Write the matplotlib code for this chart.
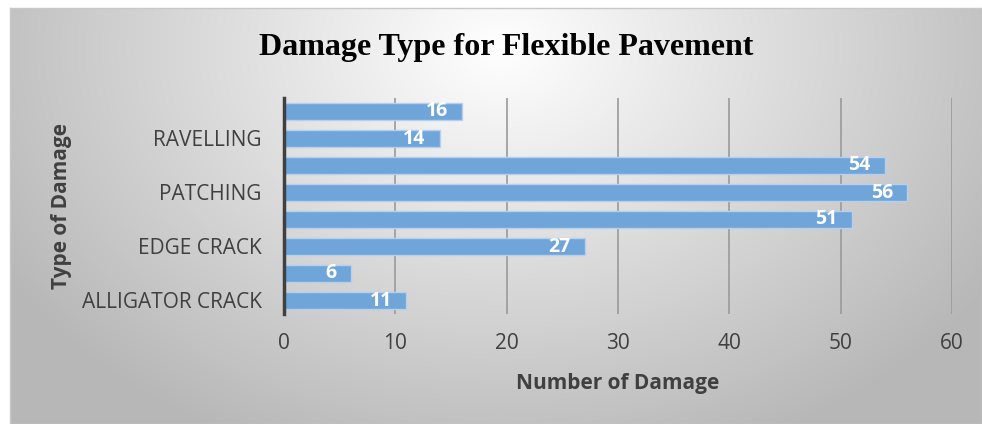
import numpy as np
import matplotlib.pyplot as plt

categories = ['ALLIGATOR CRACK', '', 'EDGE CRACK', '', 'PATCHING', '', 'RAVELLING', '']
values = [11, 6, 27, 51, 56, 54, 14, 16]
xticks = [0, 10, 20, 30, 40, 50, 60]

W, H = 982, 424
fig = plt.figure(figsize=(W / 100, H / 100), dpi=100)

# gradient background panel
bg = fig.add_axes([10 / W, 0, (W - 10) / W, (H - 8) / H], zorder=-1)
yy, xx = np.mgrid[0:416, 0:972]
d = np.sqrt(((xx - 490) / 560.0) ** 2 + ((yy - 40) / 420.0) ** 2)
g = np.clip(1.0 - 0.27 * d, 0.72, 1.0)
bg.imshow(np.dstack([g, g, g]), aspect='auto', extent=[0, 1, 0, 1])
bg.set_xticks([])
bg.set_yticks([])
for s in bg.spines.values():
    s.set_color('#c8c8c8')
    s.set_linewidth(1)

ax = fig.add_axes([284 / W, 1 - 314 / H, 668 / W, 216 / H])
ax.set_facecolor('none')
pos = np.arange(len(values))
bars = ax.barh(pos, values, height=0.6, color='#6fa5d8', edgecolor='#b4d0ee', linewidth=1, zorder=3)
for p, v in zip(pos, values):
    ax.text(v - 1.3, p + 0.0, str(v), ha='right', va='center', color='white',
            fontsize=14, fontweight='bold', family='Open Sans', zorder=4)

ax.set_xlim(0, 60)
ax.set_ylim(-0.5, 7.5)
ax.set_xticks(xticks)
ax.set_xticklabels([str(t) for t in xticks], family='Open Sans', fontsize=15, color='#404040')
ax.set_yticks(pos)
ax.set_yticklabels(categories, family='Open Sans', fontsize=15, color='#404040')
ax.tick_params(axis='both', length=0)
ax.tick_params(axis='y', pad=16)
ax.tick_params(axis='x', pad=14)
ax.grid(axis='x', color='#9a9a9a', linewidth=1.2, zorder=0)
for k in ['top', 'right', 'bottom']:
    ax.spines[k].set_visible(False)
ax.spines['left'].set_color('#404040')
ax.spines['left'].set_linewidth(2.5)
ax.spines['left'].set_zorder(5)

ax.set_xlabel('Number of Damage', family='Open Sans', fontsize=15, fontweight='bold', color='#404040')
ax.xaxis.set_label_coords(0.5, -(383 - 314) / 216)
ax.xaxis.label.set_va('center')
ax.set_ylabel('Type of Damage', family='Open Sans', fontsize=15, fontweight='bold', color='#404040')
ax.yaxis.set_label_coords(-(284 - 62) / 668, 0.5)
ax.yaxis.label.set_va('center')

fig.text(506 / W, 1 - 47 / H, 'Damage Type for Flexible Pavement', ha='center', va='center',
         family='Liberation Serif', fontsize=23, fontweight='bold', color='black')

fig.savefig('out.png', dpi=100)
